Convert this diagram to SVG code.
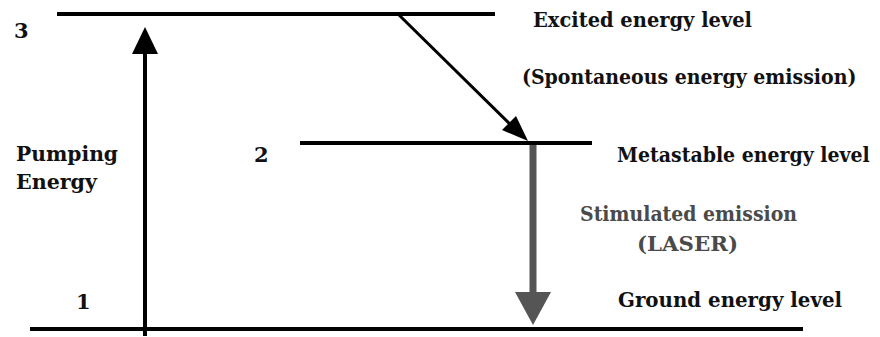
<svg xmlns="http://www.w3.org/2000/svg" width="880" height="337" viewBox="0 0 880 337">
<style>
.lvl{stroke:#000;stroke-width:4;fill:none}
.t{font-family:"DejaVu Serif","Liberation Serif",serif;font-weight:bold;fill:#111;font-size:21px}
.g{fill:#4a4a4a}
</style>
<rect width="880" height="337" fill="#fff"/>
<g id="level3"><line class="lvl" x1="57" y1="14" x2="495" y2="14"/><text class="t" x="14" y="38" font-size="22">3</text><text class="t" x="533" y="27" textLength="219" lengthAdjust="spacingAndGlyphs">Excited energy level</text></g>
<g id="level2"><line class="lvl" x1="300" y1="143" x2="592" y2="143"/><text class="t" x="254" y="162" font-size="22">2</text><text class="t" transform="translate(617,162) scale(0.8,1)" x="0" y="0" textLength="316" lengthAdjust="spacingAndGlyphs">Metastable energy level</text></g>
<g id="level1"><line class="lvl" x1="30" y1="329" x2="803" y2="329"/><text class="t" x="76" y="309" font-size="22">1</text><text class="t" x="618" y="307" textLength="224" lengthAdjust="spacingAndGlyphs">Ground energy level</text></g>
<g id="pumping"><text class="t" x="16" y="161" textLength="102" lengthAdjust="spacingAndGlyphs">Pumping</text><text class="t" x="16" y="189" textLength="81" lengthAdjust="spacingAndGlyphs">Energy</text></g>
<g id="spontaneous"><text class="t" transform="translate(522,84) scale(0.8,1)" x="0" y="0" textLength="418" lengthAdjust="spacingAndGlyphs">(Spontaneous energy emission)</text></g>
<g id="stimulated"><text class="t g" x="580" y="221" textLength="217" lengthAdjust="spacingAndGlyphs">Stimulated emission</text><text class="t g" x="637" y="251" textLength="101" lengthAdjust="spacingAndGlyphs">(LASER)</text></g>
<g id="connectors">
<line x1="145" y1="336" x2="145" y2="50" stroke="#000" stroke-width="4"/>
<polygon points="145,27 158,54 132,54" fill="#000"/>
<line x1="398" y1="14" x2="512" y2="126" stroke="#000" stroke-width="3"/>
<polygon points="528,141 502,130 516,116" fill="#000"/>
<line x1="533" y1="145" x2="533" y2="296" stroke="#555" stroke-width="7"/>
<polygon points="515,292 551,292 533,325" fill="#555"/>
</g>
</svg>
